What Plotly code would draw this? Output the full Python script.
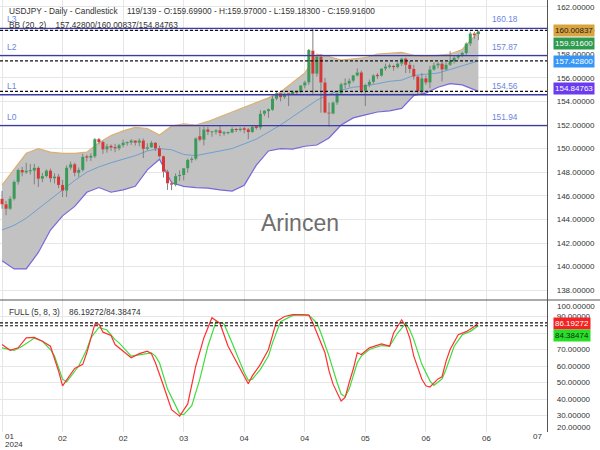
import plotly.graph_objects as go
from plotly.subplots import make_subplots

# USDJPY daily candles, bar index 0 .. 118
opens = [145.75, 145.28, 144.90, 145.75, 147.18, 148.18, 147.98, 148.12, 148.13, 148.37,
         147.45, 147.67, 148.13, 147.48, 147.63, 146.92, 146.44, 148.38, 148.67, 147.95,
         148.19, 149.30, 149.28, 149.34, 150.80, 150.55, 149.93, 150.19, 150.13, 150.01,
         150.29, 150.50, 150.51, 150.68, 150.50, 150.68, 149.98, 150.11, 150.49, 150.01,
         149.35, 148.04, 147.06, 146.94, 147.67, 147.76, 148.33, 149.04, 149.14, 151.05,
         150.75, 151.62, 151.42, 151.42, 151.55, 151.32, 151.35, 151.36, 151.66, 151.57,
         151.68, 151.63, 151.40, 151.85, 151.79, 152.95, 153.21, 153.29, 154.23, 154.68,
         154.36, 154.64, 154.62, 154.82, 154.80, 155.35, 155.61, 158.30, 156.35, 157.78,
         155.60, 153.05, 152.97, 153.90, 154.68, 155.45, 155.50, 155.75, 156.20, 156.45,
         154.90, 155.40, 155.65, 156.20, 156.18, 156.78, 156.95, 157.00, 156.90, 157.20,
         157.62, 157.10, 156.75, 156.10, 154.85, 155.95, 155.60, 156.70, 157.05, 157.20,
         156.70, 157.10, 157.40, 157.70, 157.85, 158.10, 158.90, 159.75, 159.699]
highs = [146.41, 145.57, 145.95, 147.30, 148.30, 148.45, 148.80, 148.70, 148.70, 148.50,
         147.95, 148.25, 148.30, 147.90, 147.85, 147.35, 148.58, 148.90, 148.80, 148.40,
         149.55, 149.48, 149.60, 150.88, 150.90, 150.65, 150.40, 150.35, 150.40, 150.40,
         150.76, 150.60, 150.80, 150.70, 150.85, 150.85, 150.45, 150.65, 150.55, 150.25,
         149.40, 148.20, 147.25, 147.90, 148.15, 148.35, 149.16, 149.30, 150.95, 151.82,
         151.86, 151.86, 151.50, 151.65, 151.97, 151.45, 151.45, 151.80, 151.75, 151.80,
         151.85, 151.75, 151.95, 151.95, 153.25, 153.25, 153.40, 154.45, 154.78, 154.72,
         154.70, 154.65, 154.87, 154.89, 155.37, 155.75, 158.44, 160.20, 157.90, 157.99,
         156.00, 153.90, 154.00, 154.75, 155.60, 155.95, 155.95, 156.25, 156.80, 156.60,
         155.50, 155.85, 156.30, 156.40, 156.80, 157.20, 157.20, 157.10, 157.30, 157.70,
         157.72, 157.40, 157.10, 156.20, 156.40, 156.20, 157.00, 157.30, 157.30, 157.40,
         157.30, 158.25, 157.90, 158.00, 158.20, 159.00, 159.90, 159.90, 159.97]
lows = [144.90, 144.35, 144.80, 145.60, 146.95, 147.65, 147.85, 147.80, 146.97, 146.75,
        147.15, 147.55, 147.15, 147.05, 146.65, 145.90, 145.90, 148.20, 147.65, 147.60,
        148.05, 148.90, 148.95, 149.20, 150.35, 149.55, 149.65, 149.80, 149.70, 149.85,
        150.10, 150.25, 150.30, 150.25, 150.20, 149.20, 149.85, 150.05, 149.80, 149.25,
        147.55, 146.50, 146.48, 146.80, 147.25, 147.30, 147.95, 148.80, 149.00, 150.60,
        150.26, 151.15, 151.00, 151.20, 151.05, 151.10, 151.20, 151.30, 151.40, 151.45,
        151.30, 150.80, 151.35, 151.60, 151.60, 152.75, 152.60, 153.20, 154.10, 154.00,
        154.20, 153.60, 154.55, 154.55, 154.70, 155.10, 155.40, 154.54, 156.10, 153.04,
        152.99, 151.86, 152.90, 153.70, 154.60, 155.10, 155.20, 155.60, 156.10, 154.70,
        153.60, 155.20, 155.50, 155.90, 156.10, 156.60, 156.80, 156.60, 156.80, 157.00,
        156.40, 156.40, 155.85, 154.55, 154.55, 155.40, 155.10, 156.60, 156.80, 155.70,
        156.60, 157.00, 157.20, 157.55, 157.75, 157.90, 158.70, 159.30, 159.183]
closes = [145.28, 144.90, 145.75, 147.18, 148.18, 147.98, 148.12, 148.13, 148.37, 147.45,
          147.67, 148.13, 147.48, 147.63, 146.92, 146.44, 148.38, 148.67, 147.95, 148.19,
          149.30, 149.28, 149.34, 150.80, 150.55, 149.93, 150.19, 150.13, 150.01, 150.29,
          150.50, 150.51, 150.68, 150.50, 150.68, 149.98, 150.11, 150.49, 150.01, 149.35,
          148.04, 147.06, 146.94, 147.67, 147.76, 148.33, 149.04, 149.14, 150.86, 150.75,
          151.62, 151.42, 151.42, 151.55, 151.32, 151.35, 151.36, 151.66, 151.57, 151.68,
          151.63, 151.40, 151.85, 151.79, 152.95, 153.21, 153.29, 154.23, 154.68, 154.36,
          154.64, 154.62, 154.82, 154.80, 155.35, 155.61, 158.35, 156.35, 157.78, 155.60,
          153.05, 152.97, 153.90, 154.68, 155.45, 155.50, 155.75, 156.20, 156.45, 154.90,
          155.40, 155.65, 156.20, 156.18, 156.78, 156.95, 157.00, 156.90, 157.20, 157.62,
          157.10, 156.75, 156.10, 154.85, 155.95, 155.60, 156.70, 157.05, 157.20, 156.70,
          157.10, 157.40, 157.70, 157.85, 158.10, 158.90, 159.75, 159.60, 159.916]
bars = list(range(len(closes)))

# Bollinger band (20, 2) read every 3 bars
bb_bars = list(range(0, 118, 3)) + [118]
bb_upper = [146.9, 148.3, 149.6, 150.0, 149.7, 149.6, 149.6, 149.7, 150.5, 151.1,
            151.5, 151.8, 151.7, 151.15, 151.9, 152.1, 152.0, 152.3, 152.7, 153.1,
            153.55, 153.9, 154.3, 154.8, 155.6, 156.4, 158.0, 157.8, 157.5, 157.6,
            157.7, 158.0, 158.1, 158.15, 157.9, 157.8, 157.9, 158.0, 158.4, 159.5, 160.00837]
bb_mid = [143.1, 143.5, 144.1, 144.9, 145.7, 146.5, 147.3, 148.0, 148.45, 148.8,
          149.1, 149.4, 149.8, 150.0, 149.9, 149.5, 149.4, 149.6, 149.8, 150.0,
          150.4, 150.8, 151.4, 152.0, 152.7, 153.4, 154.1, 154.6, 154.95, 155.2,
          155.3, 155.5, 155.7, 155.8, 156.2, 156.3, 156.4, 156.7, 157.0, 157.35, 157.428]
bb_lower = [140.5, 139.8, 139.8, 141.2, 143.1, 144.3, 145.1, 146.3, 146.7, 146.3,
            146.5, 146.8, 148.2, 149.1, 147.1, 146.8, 146.7, 146.65, 146.5, 146.4,
            146.9, 148.6, 149.8, 150.0, 149.95, 150.2, 150.3, 150.9, 152.0, 152.6,
            152.85, 153.1, 153.2, 153.4, 154.5, 154.7, 155.2, 155.5, 155.4, 155.0, 154.84763]

# Stochastic FULL (5, 8, 3)
k_bars = [0, 2, 4, 6, 8, 10, 12, 14, 15, 17, 18, 20, 21, 23, 24, 25, 27, 28, 29, 32,
          34, 36, 37, 38, 40, 42, 44, 46, 48, 50, 52, 54, 56, 58, 59, 61, 62, 64, 66, 67,
          68, 70, 72, 74, 76, 77, 78, 80, 81, 82, 84, 85, 86, 87, 88, 89, 91, 94, 96, 97,
          99, 100, 101, 102, 104, 105, 106, 108, 109, 110, 111, 113, 115, 117, 118]
k_vals = [73, 69.5, 71, 77, 77.3, 75, 72, 57, 48, 55.5, 58.5, 61, 68, 85.4, 85.4, 80.5, 78.5, 73, 71, 65,
          67.5, 69, 67.5, 62, 48, 33.5, 29.6, 37, 60, 77, 89.3, 85.8, 72, 63, 59, 49.3, 54, 61, 70, 78,
          87, 90, 91.1, 91.1, 90.8, 86, 80, 68, 57, 49, 38.8, 41, 50, 58, 68, 67, 71, 73.4, 72, 80,
          88, 84, 77, 66, 52, 48, 47.3, 52.2, 53.5, 63, 70, 79, 80.8, 84, 86.19272]
d_bars = [0, 3, 5, 8, 10, 12, 13, 15, 16, 17, 19, 21, 22, 24, 26, 28, 29, 32, 35, 37,
          38, 39, 41, 43, 44, 45, 47, 49, 51, 53, 55, 57, 58, 60, 61, 62, 64, 66, 67, 69,
          72, 74, 76, 78, 79, 81, 83, 84, 85, 86, 88, 89, 91, 94, 96, 97, 98, 100, 101, 102,
          104, 106, 107, 109, 110, 112, 114, 116, 118]
d_vals = [71, 69.4, 72, 76.9, 75, 70, 66, 52, 50.3, 53.3, 60, 70, 77, 83.4, 81.8, 76, 74, 66, 67, 68,
          66, 62, 46, 36, 31, 30.5, 36, 52, 72, 86.8, 85.5, 74, 68, 56, 51.3, 52, 58, 66, 74, 86.8,
          90.7, 91, 90.8, 86, 80, 66, 50, 43, 41.4, 46, 62, 66, 70, 72.4, 72, 76, 80, 85.8, 82, 76,
          61, 51, 48.3, 52.2, 58, 72, 78.9, 81, 84.38474]

levels = [151.94, 154.56, 157.87, 160.18]
level_names = ["L0", "L1", "L2", "L3"]

tick_bars = list(range(0, 136, 15))
tick_text = ["01", "02", "02", "03", "04", "04", "05", "06", "06", "07"]
year_text = "2024"
price_ticks = list(range(138, 163, 2))
stoch_ticks = [30, 40, 50, 60, 70, 80, 90]

FONT = "Liberation Sans, Arial, sans-serif"
UP, DOWN = "#3a9a58", "#d63838"
PLOT_W, PLOT_H = 547, 432


def py(px):
    return 1 - px / PLOT_H


fig = make_subplots(rows=2, cols=1, shared_xaxes=True, vertical_spacing=0,
                    row_heights=[300 / PLOT_H, 132 / PLOT_H])

# Bollinger band area
fig.add_trace(go.Scatter(x=bb_bars, y=bb_upper, mode="lines",
                         line=dict(color="#dcb070", width=1.2), hoverinfo="skip"), row=1, col=1)
fig.add_trace(go.Scatter(x=bb_bars, y=bb_lower, mode="lines", fill="tonexty",
                         fillcolor="#c2c2c2", line=dict(color="#7866dc", width=1.2),
                         hoverinfo="skip"), row=1, col=1)
fig.add_trace(go.Scatter(x=bb_bars, y=bb_mid, mode="lines",
                         line=dict(color="#6f9fd2", width=1), hoverinfo="skip"), row=1, col=1)

# candle wicks (above and below the body)
wx, wy = [], []
for b, o, h, lo, c in zip(bars, opens, highs, lows, closes):
    wx += [b, b, None, b, b, None]
    wy += [lo, min(o, c), None, max(o, c), h, None]
fig.add_trace(go.Scatter(x=wx, y=wy, mode="lines", line=dict(color="#808080", width=1),
                         hoverinfo="skip"), row=1, col=1)

# candle bodies as thick segments, one trace per colour
for rising, col in [(True, UP), (False, DOWN)]:
    bx, by = [], []
    for b, o, c in zip(bars, opens, closes):
        if (c >= o) == rising:
            lo_b, hi_b = min(o, c), max(o, c)
            if hi_b - lo_b < 0.08:
                lo_b, hi_b = lo_b - 0.04, hi_b + 0.04
            bx += [b, b, None]
            by += [lo_b, hi_b, None]
    fig.add_trace(go.Scatter(x=bx, y=by, mode="lines", line=dict(color=col, width=3),
                             hoverinfo="skip"), row=1, col=1)

# stochastic lines
fig.add_trace(go.Scatter(x=d_bars, y=d_vals, mode="lines",
                         line=dict(color="#3fdc3f", width=1.2), hoverinfo="skip"), row=2, col=1)
fig.add_trace(go.Scatter(x=k_bars, y=k_vals, mode="lines",
                         line=dict(color="#ff3030", width=1.2), hoverinfo="skip"), row=2, col=1)

# support / resistance levels
for lv in levels:
    fig.add_hline(y=lv, line=dict(color="#3b3ba8", width=1.3), row=1, col=1)
for v in [bb_upper[-1], bb_mid[-1], bb_lower[-1]]:
    fig.add_hline(y=v, line=dict(color="#111111", width=1.2, dash="3px,2px"), row=1, col=1)
for v in [k_vals[-1], d_vals[-1]]:
    fig.add_hline(y=v, line=dict(color="#111111", width=1.2, dash="3px,2px"), row=2, col=1)

# panel separator
fig.add_shape(type="line", xref="paper", yref="paper", x0=0, x1=600 / PLOT_W,
              y0=132 / PLOT_H, y1=132 / PLOT_H, line=dict(color="#555555", width=1.2))

ann = []
nb = "\u00a0"
ann.append(dict(xref="paper", yref="paper", x=0, xshift=7, y=py(10.5), xanchor="left",
                yanchor="middle", showarrow=False, font=dict(size=8.3, color="#333"),
                text="USDJPY - Daily - Candlestick" + nb * 4 +
                "119/139 - O:%.5f - H:%.5f - L:%.5f - C:%.5f" % (opens[-1], highs[-1], lows[-1], closes[-1])))
ann.append(dict(xref="paper", yref="paper", x=0, xshift=7, y=py(25), xanchor="left",
                yanchor="middle", showarrow=False, font=dict(size=8.3, color="#333"),
                text="BB (20, 2)" + nb * 4 + "%.5f/%.5f/%.5f" % (bb_mid[-1], bb_upper[-1], bb_lower[-1])))
ann.append(dict(xref="paper", yref="paper", x=0, xshift=7, y=py(311.7), xanchor="left",
                yanchor="middle", showarrow=False, font=dict(size=8.3, color="#333"),
                text="FULL (5, 8, 3)" + nb * 4 + "%.5f/%.5f" % (k_vals[-1], d_vals[-1])))
ann.append(dict(xref="paper", yref="paper", x=300 / PLOT_W, y=py(223), xanchor="center",
                yanchor="middle", showarrow=False, text="Arincen",
                font=dict(size=23, color="#6e6e6e")))

for lv, nm in zip(levels, level_names):
    ann.append(dict(xref="x", yref="y", x=-0.5, xshift=5, y=lv, yshift=2, xanchor="left",
                    yanchor="bottom", showarrow=False, text=nm,
                    font=dict(size=8.5, color="#6a86e0")))
    ann.append(dict(xref="x", yref="y", x=124.5, y=lv, yshift=2, xanchor="center",
                    yanchor="bottom", showarrow=False, text="%.2f" % lv,
                    font=dict(size=8.3, color="#6a86e0")))

# right-side value boxes
boxes = [("y", bb_upper[-1], "#d9a33e", "#222", 0),
         ("y", closes[-1], "#2e9a50", "white", -12),
         ("y", bb_mid[-1], "#3596f7", "white", -1),
         ("y", bb_lower[-1], "#6a3cf0", "white", 3),
         ("y2", k_vals[-1], "#f42222", "white", -1),
         ("y2", d_vals[-1], "#26e026", "#222", -10)]
for yr, v, bg, fc, ys in boxes:
    ann.append(dict(xref="paper", yref=yr, x=1, xshift=6, y=v, yshift=ys, xanchor="left",
                    yanchor="middle", showarrow=False, text="%.5f" % v, bgcolor=bg,
                    borderpad=1, font=dict(size=8, color=fc)))

# clamped edge tick labels
ann.append(dict(xref="paper", yref="y2", x=1, xshift=8, y=100, yshift=-6, xanchor="left",
                yanchor="middle", showarrow=False, text="%.5f" % 100, font=dict(size=8, color="#333")))
ann.append(dict(xref="paper", yref="y2", x=1, xshift=8, y=20, yshift=5, xanchor="left",
                yanchor="middle", showarrow=False, text="%.5f" % 20, font=dict(size=8, color="#333")))
ann.append(dict(xref="x2", yref="paper", x=tick_bars[0], xshift=1, y=py(436.7), xanchor="left",
                yanchor="middle", showarrow=False, text=tick_text[0],
                font=dict(size=8, color="#333")))
ann.append(dict(xref="x2", yref="paper", x=tick_bars[0], xshift=1, y=py(444.5), xanchor="left",
                yanchor="middle", showarrow=False, text=year_text,
                font=dict(size=8, color="#333")))
ann.append(dict(xref="x2", yref="paper", x=tick_bars[-1], xshift=-3, y=py(436.7), xanchor="right",
                yanchor="middle", showarrow=False, text=tick_text[-1], font=dict(size=8, color="#333")))

grid = "#e6e6e6"
mid_text = [""] + tick_text[1:-1] + [""]
fig.update_xaxes(range=[-0.5, 135], tickvals=tick_bars, ticktext=mid_text, showgrid=True,
                 gridcolor=grid, gridwidth=1, zeroline=False, ticks="", showline=False,
                 ticklabelstandoff=0, tickfont=dict(size=8, color="#333"))
fig.update_xaxes(showticklabels=False, row=1, col=1)
fig.update_yaxes(side="right", showgrid=True, gridcolor=grid, zeroline=False, ticks="",
                 showline=True, linecolor="#555555", linewidth=1.2, tickformat=".5f",
                 ticklabelstandoff=7, tickfont=dict(size=8, color="#333"))
fig.update_yaxes(range=[137.17, 162.59], tickvals=price_ticks, row=1, col=1)
fig.update_yaxes(range=[20, 100], tickvals=stoch_ticks, row=2, col=1)

fig.update_layout(width=600, height=450, margin=dict(l=0, r=53, t=0, b=18),
                  paper_bgcolor="white", plot_bgcolor="white", showlegend=False,
                  font=dict(family=FONT, color="#333"), annotations=ann)

fig.write_html("out.html", config={"displayModeBar": False},
               post_script="document.body.style.margin='0';")
